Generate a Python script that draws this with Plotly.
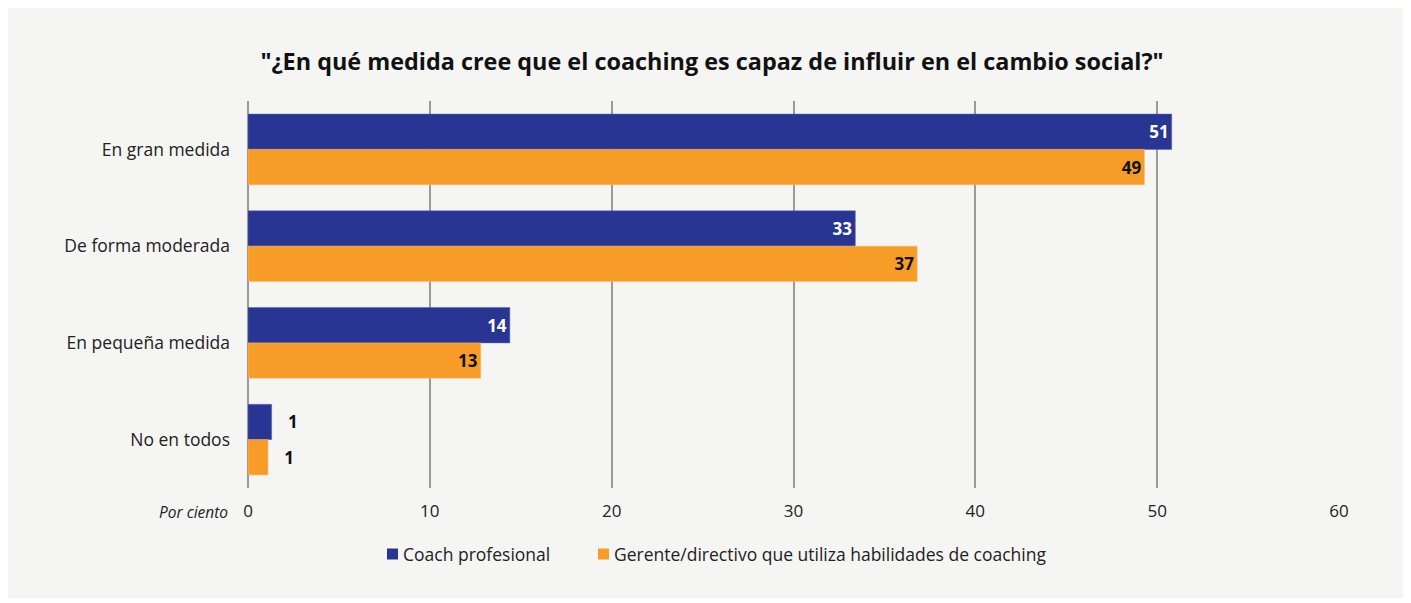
import plotly.graph_objects as go

categories = ["En gran medida", "De forma moderada", "En pequeña medida", "No en todos"]
coach = [50.8, 33.4, 14.4, 1.3]
gerente = [49.3, 36.8, 12.8, 1.1]
series_names = ["Coach profesional", "Gerente/directivo que utiliza habilidades de coaching"]
x_ticks = [0, 10, 20, 30, 40, 50, 60]

BLUE = "#283593"
ORANGE = "#F79D27"
BG = "#F5F5F3"
FONT = "Open Sans"

# page body has an 8px margin: figure is drawn offset by (8, 8)
OFF = 8
W, H = 1411 - OFF, 603 - OFF
L, R, T, B = 248 - OFF, 72, 101 - OFF, 115
pw, ph = W - L - R, H - T - B


def px2x(px):
    return (px - OFF - L) / pw


def py2y(py):
    return (H - B - (py - OFF)) / ph


def positions(vals):
    return ["inside" if v >= 5 else "outside" for v in vals]


def templates(vals):
    return ["%{x:.0f}" if v >= 5 else "   %{x:.0f}" for v in vals]


fig = go.Figure()

fig.add_trace(go.Bar(
    y=categories, x=coach, name=series_names[0], orientation="h",
    marker=dict(color=BLUE, line=dict(color="#5a64b0", width=0.5)),
    texttemplate=templates(coach), textposition=positions(coach),
    insidetextanchor="end", textangle=0,
    insidetextfont=dict(color="white", size=17, family=FONT, weight="bold"),
    outsidetextfont=dict(color="#111111", size=17, family=FONT, weight="bold"),
    cliponaxis=False, showlegend=False,
))
fig.add_trace(go.Bar(
    y=categories, x=gerente, name=series_names[1], orientation="h",
    marker=dict(color=ORANGE, line=dict(color="#f9b866", width=0.5)),
    texttemplate=templates(gerente), textposition=positions(gerente),
    insidetextanchor="end", textangle=0,
    insidetextfont=dict(color="#111111", size=17, family=FONT, weight="bold"),
    outsidetextfont=dict(color="#111111", size=17, family=FONT, weight="bold"),
    cliponaxis=False, showlegend=False,
))

fig.update_layout(
    width=W, height=H,
    margin=dict(l=L, r=R, t=T, b=B),
    paper_bgcolor="white",
    plot_bgcolor=BG,
    barmode="group",
    bargap=0.27,
    bargroupgap=0,
    font=dict(family=FONT, size=17, color="#222222"),
    title=dict(
        text="<b>\"¿En qué medida cree que el coaching es capaz de influir en el cambio social?\"</b>",
        x=(712 - OFF) / W, xanchor="center", y=1 - (62 - OFF) / H, yanchor="middle",
        font=dict(size=23.4, color="#111111", family=FONT),
    ),
    xaxis=dict(
        range=[0, 60], tickvals=x_ticks, showgrid=True,
        gridcolor="#9a9a9a", gridwidth=2, zeroline=True, zerolinecolor="#9a9a9a",
        zerolinewidth=2, showline=False, ticks="", ticklabelstandoff=11,
        tickfont=dict(size=17, color="#222222"),
    ),
    yaxis=dict(
        autorange="reversed", showgrid=False, ticks="", ticklabelstandoff=17,
        tickfont=dict(size=17.5, color="#222222"),
    ),
    showlegend=False,
)

# panel background
fig.add_shape(
    type="rect", xref="paper", yref="paper", layer="below",
    x0=px2x(7), x1=px2x(1405), y0=py2y(598), y1=py2y(6),
    fillcolor=BG, line=dict(width=0),
)

fig.add_annotation(
    text="<i>Por ciento</i>", xref="paper", yref="paper",
    x=px2x(230), y=py2y(512), xanchor="right", yanchor="middle",
    showarrow=False, font=dict(size=15.5, color="#222222", family=FONT),
)

# legend (manual, to match the compact symbol/text spacing)
legend_items = [(series_names[0], BLUE, 387), (series_names[1], ORANGE, 598)]
for name, color, sx in legend_items:
    fig.add_shape(
        type="rect", xref="paper", yref="paper",
        x0=px2x(sx), x1=px2x(sx + 11), y0=py2y(559.5), y1=py2y(548.5),
        fillcolor=color, line=dict(width=0),
    )
    fig.add_annotation(
        text=name, xref="paper", yref="paper",
        x=px2x(sx + 14), y=py2y(554), xanchor="left", yanchor="middle",
        showarrow=False, font=dict(size=17.5, color="#222222", family=FONT),
    )

fig.write_html("out.html")
